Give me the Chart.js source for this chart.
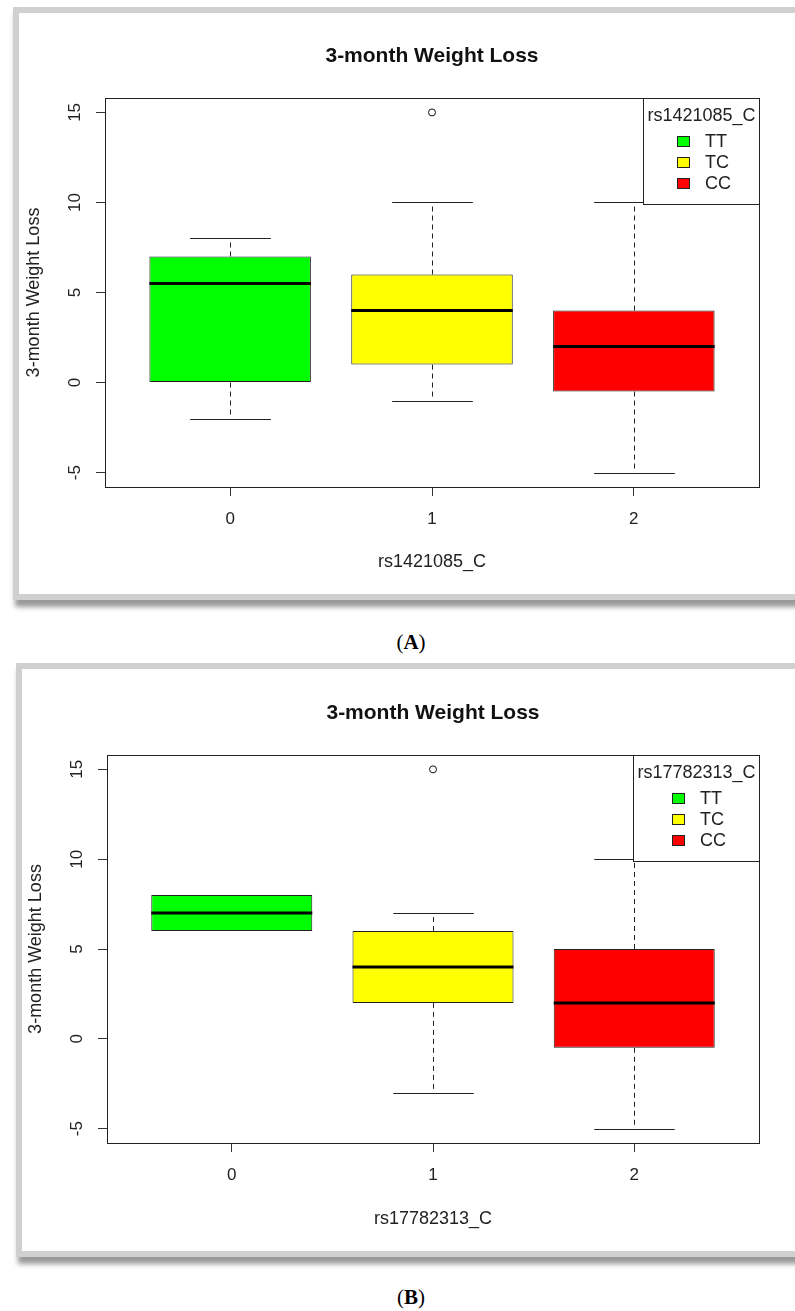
<!DOCTYPE html>
<html>
<head>
<meta charset="utf-8">
<title>3-month Weight Loss</title>
<script src="https://cdn.jsdelivr.net/npm/chart.js@4.4.1/dist/chart.umd.min.js"></script>
<style>
  html, body { margin: 0; padding: 0; background: #fff; }
  body { width: 795px; height: 1311px; position: relative; overflow: hidden; }
  .frame { position: absolute; border: 6px solid #d0d0d0; background: #fff; box-shadow: 2px 7px 5px rgba(0, 0, 0, 0.4); }
  canvas { position: absolute; }
  .caption { position: absolute; left: 0; width: 822px; text-align: center; font-family: 'Liberation Serif', 'Times New Roman', serif; font-size: 21px; line-height: 24px; color: #000; }
</style>
</head>
<body>
<div class="frame" style="left:13px; top:7px; width:800px; height:581px;"></div>
<canvas id="chartA" width="775" height="581" style="left:20px; top:13px;"></canvas>
<div class="caption" style="top:630px;">(<b>A</b>)</div>

<div class="frame" style="left:16px; top:663px; width:800px; height:582px;"></div>
<canvas id="chartB" width="773" height="582" style="left:22px; top:669px;"></canvas>
<div class="caption" style="top:1285px;">(<b>B</b>)</div>

<script>
// groups on the x axis and genotype legend
const groups = [0, 1, 2];
const genotypes = ['TT', 'TC', 'CC'];
const yTicks = [-5, 0, 5, 10, 15];

// (A) rs1421085_C
const aLow = [-2, -1, -5];
const aQ1 = [0, 1, -0.5];
const aMedian = [5.5, 4, 2];
const aQ3 = [7, 6, 4];
const aHigh = [8, 10, 10];
const aOutlierX = [1];
const aOutlierY = [15];

// (B) rs17782313_C
const bLow = [6, -3, -5];
const bQ1 = [6, 2, -0.5];
const bMedian = [7, 4, 2];
const bQ3 = [8, 6, 5];
const bHigh = [8, 7, 10];
const bOutlierX = [1];
const bOutlierY = [15];

const boxColors = ['#00ff00', '#ffff00', '#ff0000'];
const FONT = "'Liberation Sans', Arial, sans-serif";

Chart.defaults.font.family = FONT;
Chart.defaults.color = '#222';

// whiskers, caps, medians and the plot frame
const boxPlotPlugin = {
    id: 'boxPlot',
    afterDatasetsDraw(chart, args, opts) {
        const {ctx, chartArea, scales: {x, y}} = chart;
        const meta = chart.getDatasetMeta(0);
        ctx.save();
        opts.groups.forEach((g, i) => {
            const bar = meta.data[i];
            const cx = Math.round(x.getPixelForValue(g)) + 0.5;
            const half = bar.width / 2;
            const capHalf = x.getPixelForValue(g + 0.2) - x.getPixelForValue(g);
            const pLow = y.getPixelForValue(opts.low[i]);
            const pQ1 = y.getPixelForValue(opts.q1[i]);
            const pQ3 = y.getPixelForValue(opts.q3[i]);
            const pHigh = y.getPixelForValue(opts.high[i]);

            // dashed whiskers
            ctx.strokeStyle = '#222';
            ctx.lineWidth = 1;
            ctx.setLineDash([5, 4]);
            ctx.beginPath();
            if (opts.high[i] > opts.q3[i]) { ctx.moveTo(cx, pQ3); ctx.lineTo(cx, pHigh); }
            if (opts.low[i] < opts.q1[i]) { ctx.moveTo(cx, pQ1); ctx.lineTo(cx, pLow); }
            ctx.stroke();

            // caps
            ctx.setLineDash([]);
            ctx.beginPath();
            if (opts.high[i] > opts.q3[i]) {
                ctx.moveTo(cx - capHalf, Math.round(pHigh) + 0.5);
                ctx.lineTo(cx + capHalf, Math.round(pHigh) + 0.5);
            }
            if (opts.low[i] < opts.q1[i]) {
                ctx.moveTo(cx - capHalf, Math.round(pLow) + 0.5);
                ctx.lineTo(cx + capHalf, Math.round(pLow) + 0.5);
            }
            ctx.stroke();

            // median
            const pMed = y.getPixelForValue(opts.median[i]);
            ctx.strokeStyle = '#000';
            ctx.lineWidth = 3;
            ctx.beginPath();
            ctx.moveTo(bar.x - half, pMed);
            ctx.lineTo(bar.x + half, pMed);
            ctx.stroke();
        });

        // frame around the plotting region
        ctx.strokeStyle = '#222';
        ctx.lineWidth = 1;
        ctx.strokeRect(chartArea.left + 0.5, chartArea.top + 0.5,
            chartArea.right - chartArea.left, chartArea.bottom - chartArea.top);
        ctx.restore();
    }
};

// R-style legend box in the top right corner
const legendBoxPlugin = {
    id: 'legendBox',
    afterDraw(chart, args, opts) {
        const {ctx, chartArea} = chart;
        ctx.save();
        ctx.font = '18px ' + FONT;
        const titleW = ctx.measureText(opts.title).width;
        const labelW = Math.max(...opts.labels.map(l => ctx.measureText(l).width));
        const w = Math.round(titleW + 8);
        const h = 106;
        const left = chartArea.right - w;
        const top = chartArea.top;

        ctx.fillStyle = '#fff';
        ctx.fillRect(left, top, w, h);
        ctx.strokeStyle = '#222';
        ctx.lineWidth = 1;
        ctx.strokeRect(left + 0.5, top + 0.5, w, h);

        ctx.fillStyle = '#222';
        ctx.textAlign = 'center';
        ctx.textBaseline = 'middle';
        ctx.fillText(opts.title, left + w / 2 + 0.5, top + 18);

        const contentW = 13 + 15 + labelW;
        const x0 = Math.round(left + (w - contentW) / 2 + 3);
        opts.labels.forEach((label, i) => {
            const cy = top + 43 + i * 21;
            ctx.fillStyle = opts.colors[i];
            ctx.fillRect(x0, cy - 5, 13, 10);
            ctx.strokeStyle = '#222';
            ctx.strokeRect(x0 + 0.5, cy - 5 + 0.5, 12, 10);
            ctx.fillStyle = '#222';
            ctx.textAlign = 'left';
            ctx.fillText(label, x0 + 28, cy + 1);
        });
        ctx.restore();
    }
};

function makePanel(canvasId, p) {
    const canvas = document.getElementById(canvasId);
    const H = canvas.height;
    const titleLine = 21 * 1.2;
    const padTop = p.titleCenter - titleLine / 2;
    const padBottom = p.areaTop - padTop - titleLine;

    return new Chart(canvas.getContext('2d'), {
        type: 'bar',
        data: {
            datasets: [{
                label: 'box',
                data: groups.map((g, i) => ({x: g, y: [p.q1[i], p.q3[i]]})),
                backgroundColor: boxColors,
                borderColor: '#222',
                borderWidth: 1,
                borderSkipped: false,
                barPercentage: 0.8,
                categoryPercentage: 1.0
            }, {
                type: 'scatter',
                label: 'outliers',
                data: p.outX.map((v, i) => ({x: v, y: p.outY[i]})),
                pointRadius: 3.5,
                pointBorderWidth: 1,
                pointBorderColor: '#111',
                pointBackgroundColor: 'rgba(0,0,0,0)'
            }]
        },
        options: {
            responsive: false,
            animation: false,
            layout: {padding: {left: 0, right: 36, top: 0, bottom: 0}},
            plugins: {
                legend: {display: false},
                tooltip: {enabled: false},
                title: {
                    display: true,
                    text: '3-month Weight Loss',
                    fullSize: false,
                    color: '#111',
                    font: {size: 21, weight: 'bold'},
                    padding: {top: padTop, bottom: padBottom}
                },
                boxPlot: {groups: groups, low: p.low, q1: p.q1, median: p.median, q3: p.q3, high: p.high},
                legendBox: {title: p.name, labels: genotypes, colors: boxColors}
            },
            scales: {
                x: {
                    type: 'linear',
                    min: -0.62,
                    max: 2.62,
                    offset: false,
                    afterBuildTicks: s => { s.ticks = groups.map(v => ({value: v})); },
                    afterFit: s => { s.height = H - 474; },
                    grid: {offset: false, drawOnChartArea: false, tickLength: 9, color: '#333'},
                    border: {display: false},
                    ticks: {font: {size: 17}, padding: 13, color: '#222', maxRotation: 0, autoSkip: false},
                    title: {display: true, text: p.name, font: {size: 18}, color: '#222', padding: {top: 0, bottom: 21}}
                },
                y: {
                    type: 'linear',
                    min: -5.8,
                    max: 15.8,
                    afterBuildTicks: s => { s.ticks = yTicks.map(v => ({value: v})); },
                    afterFit: s => { s.width = 85; },
                    grid: {drawOnChartArea: false, tickLength: 9, color: '#333'},
                    border: {display: false},
                    ticks: {font: {size: 17}, padding: 11, color: '#222', minRotation: 90, maxRotation: 90, crossAlign: 'center', autoSkip: false},
                    title: {display: true, text: '3-month Weight Loss', font: {size: 18}, color: '#222', padding: {top: 3, bottom: 0}}
                }
            }
        },
        plugins: [boxPlotPlugin, legendBoxPlugin]
    });
}

makePanel('chartA', {
    name: 'rs1421085_C', titleCenter: 43, areaTop: 85,
    low: aLow, q1: aQ1, median: aMedian, q3: aQ3, high: aHigh, outX: aOutlierX, outY: aOutlierY
});
makePanel('chartB', {
    name: 'rs17782313_C', titleCenter: 44, areaTop: 86,
    low: bLow, q1: bQ1, median: bMedian, q3: bQ3, high: bHigh, outX: bOutlierX, outY: bOutlierY
});
</script>
</body>
</html>
